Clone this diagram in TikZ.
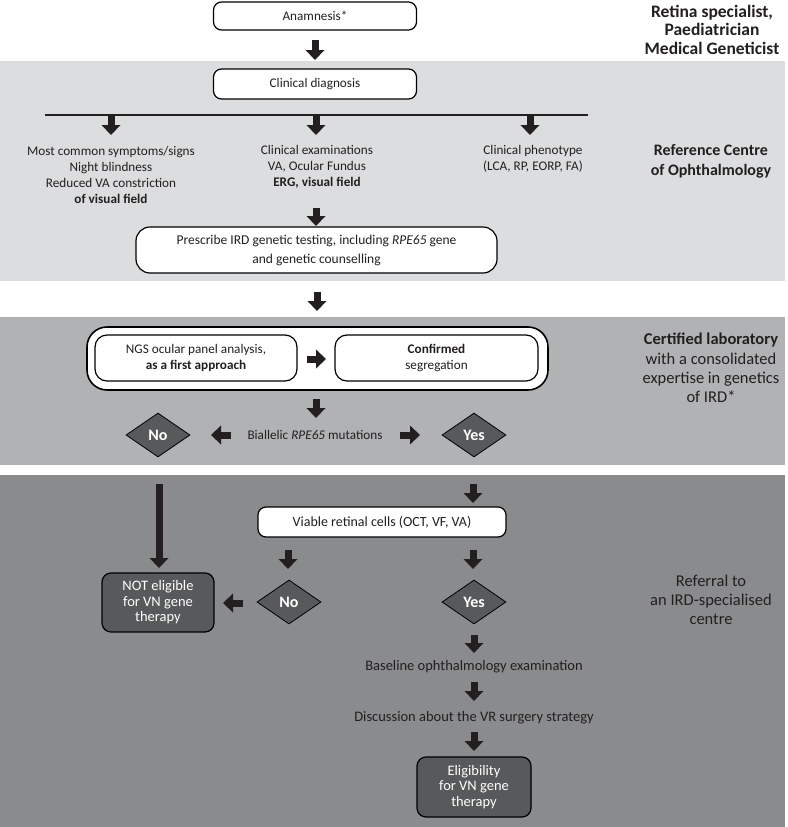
\documentclass[tikz,border=0pt]{standalone}
\usepackage{fontspec}
\setmainfont{Carlito}
\usetikzlibrary{arrows.meta,shapes.geometric}
\definecolor{bandA}{HTML}{DCDDDE}
\definecolor{bandB}{HTML}{B1B2B4}
\definecolor{bandC}{HTML}{8A8B8D}
\definecolor{darkfill}{HTML}{58595B}
\definecolor{arrc}{HTML}{231F20}
\definecolor{txtc}{HTML}{231F20}
\newcommand\fsz[2]{\fontsize{#1}{#2}\selectfont}
\tikzset{
  blk/.style={draw=arrc, line width=7pt, -{Triangle[width=19pt,length=10pt,line width=0pt]}},
  txt/.style={font=\fsz{13.2}{16}, align=center, text=txtc, inner sep=0pt},
  ltxt/.style={font=\fsz{14.5}{17}, align=center, text=txtc, inner sep=0pt},
  rlab/.style={font=\fsz{16.5}{19.3}, align=center, text=txtc, inner sep=0pt},
  wbox/.style={draw=black, line width=1.2pt, fill=white, rounded corners=8pt, align=center, text=txtc, inner sep=0pt, font=\fsz{13.2}{16}},
  dbox/.style={draw=black, line width=1.2pt, fill=darkfill, rounded corners=9pt, align=center, text=white, inner sep=0pt, font=\fsz{14.5}{15.5}},
  dia/.style={diamond, draw=black, line width=0.8pt, fill=darkfill, minimum width=64pt, minimum height=44pt, inner sep=0pt, text=white, font=\fsz{16}{17}\bfseries},
}
\begin{document}
\begin{tikzpicture}[x=1pt,y=-1pt]
\useasboundingbox (0,0) rectangle (787,827);
\fill[white] (0,0) rectangle (787,827);
% bands
\fill[bandA] (0,61) rectangle (785,281);
\fill[bandB] (0,317) rectangle (785,465);
\fill[bandC] (0,475) rectangle (785,827);

% ---- top section
\node[wbox, minimum width=203pt, minimum height=28pt] (anam) at (315,16) {Anamnesis*};
\coordinate (a1s) at (315,40); \coordinate (a1e) at (315,60);
\draw[blk] (a1s) -- (a1e);
\node[wbox, minimum width=203pt, minimum height=30pt] (clin) at (315,84) {Clinical diagnosis};
\coordinate (hl1) at (45,115); \coordinate (hl2) at (588,115);
\draw[arrc, line width=1.6pt] (hl1) -- (hl2);
\coordinate (b1s) at (111,116); \coordinate (b1e) at (111,135);
\coordinate (b2s) at (316,116); \coordinate (b2e) at (316,135);
\coordinate (b3s) at (530,116); \coordinate (b3e) at (530,135);
\draw[blk] (b1s) -- (b1e);
\draw[blk] (b2s) -- (b2e);
\draw[blk] (b3s) -- (b3e);
\node[txt] (col1) at (111,175) {Most common symptoms/signs\\Night blindness\\Reduced VA constriction\\\textbf{of visual field}};
\node[txt] (col2) at (317,167) {Clinical examinations\\VA, Ocular Fundus\\\textbf{ERG, visual field}};
\node[txt] (col3) at (533,159) {Clinical phenotype\\(LCA, RP, EORP, FA)};
\coordinate (c1s) at (316,208); \coordinate (c1e) at (316,226);
\draw[blk] (c1s) -- (c1e);
\node[wbox, rounded corners=14pt, minimum width=361pt, minimum height=46pt, font=\fsz{13.5}{19}] (presc) at (316.5,250) {Prescribe IRD genetic testing, including \textit{RPE65} gene\\and genetic counselling};

% right labels
\node[rlab, font=\fsz{17.5}{18.5}\bfseries] (lab1) at (712,29.5) {Retina specialist,\\Paediatrician\\Medical Geneticist};
\node[rlab, font=\fsz{16}{20}\bfseries] (lab2) at (711,161) {Reference Centre\\of Ophthalmology};
\node[rlab] (lab3) at (711,368) {\textbf{Certified laboratory}\\with a consolidated\\expertise in genetics\\of IRD*};
\node[rlab] (lab4) at (711,600) {Referral to\\an IRD-specialised\\centre};

% ---- lab section
\coordinate (d1s) at (317,292); \coordinate (d1e) at (317,311);
\draw[blk] (d1s) -- (d1e);
\node[wbox, line width=1.6pt, rounded corners=20pt, minimum width=461pt, minimum height=63pt] (outer) at (317.5,358.5) {};
\node[wbox, rounded corners=12pt, minimum width=202pt, minimum height=46pt] (ngs) at (196,358) {NGS ocular panel analysis,\\\textbf{as a first approach}};
\node[wbox, rounded corners=12pt, minimum width=203pt, minimum height=46pt] (conf) at (436.5,358) {\textbf{Confirmed}\\segregation};
\coordinate (e1s) at (307,359); \coordinate (e1e) at (326,359);
\draw[blk] (e1s) -- (e1e);
\coordinate (f1s) at (316,399); \coordinate (f1e) at (316,418);
\draw[blk] (f1s) -- (f1e);
\node[txt] (biall) at (315,435) {Biallelic \textit{RPE65} mutations};
\node[dia] (no1) at (158,435) {No};
\node[dia] (yes1) at (474,435) {Yes};
\coordinate (g1s) at (231,435); \coordinate (g1e) at (211,435);
\draw[blk] (g1s) -- (g1e);
\coordinate (g2s) at (400,435); \coordinate (g2e) at (420,435);
\draw[blk] (g2s) -- (g2e);

% ---- referral section
\coordinate (h1s) at (159,484); \coordinate (h1e) at (159,568);
\draw[blk] (h1s) -- (h1e);
\coordinate (h2s) at (473,484); \coordinate (h2e) at (473,503);
\draw[blk] (h2s) -- (h2e);
\node[wbox, minimum width=248pt, minimum height=30pt, font=\fsz{14}{16}] (viab) at (382,522) {Viable retinal cells (OCT, VF, VA)};
\coordinate (i1s) at (288,550); \coordinate (i1e) at (288,569);
\coordinate (i2s) at (473,550); \coordinate (i2e) at (473,569);
\draw[blk] (i1s) -- (i1e);
\draw[blk] (i2s) -- (i2e);
\node[dia] (no2) at (289,602) {No};
\node[dia] (yes2) at (474,602) {Yes};
\coordinate (j1s) at (243,603); \coordinate (j1e) at (223,603);
\draw[blk] (j1s) -- (j1e);
\node[dbox, minimum width=112pt, minimum height=59pt] (noteli) at (158,602.5) {NOT eligible\\for VN gene\\therapy};
\coordinate (k1s) at (474,635); \coordinate (k1e) at (474,653);
\draw[blk] (k1s) -- (k1e);
\node[ltxt] (base) at (474,667) {Baseline ophthalmology examination};
\coordinate (k2s) at (474,682); \coordinate (k2e) at (474,701);
\draw[blk] (k2s) -- (k2e);
\node[ltxt] (disc) at (474,718) {Discussion about the VR surgery strategy};
\coordinate (k3s) at (474,732); \coordinate (k3e) at (474,751);
\draw[blk] (k3s) -- (k3e);
\node[dbox, minimum width=114pt, minimum height=60pt] (eli) at (474,787) {Eligibility\\for VN gene\\therapy};
\end{tikzpicture}
\end{document}
